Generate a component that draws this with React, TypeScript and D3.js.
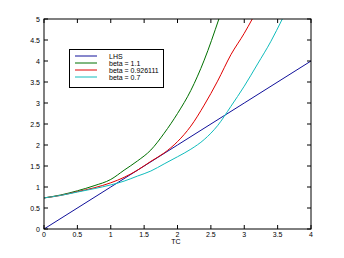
import React from "react";
import * as d3 from "d3";

const xTicks = [0, 0.5, 1, 1.5, 2, 2.5, 3, 3.5, 4];
const yTicks = [0, 0.5, 1, 1.5, 2, 2.5, 3, 3.5, 4, 4.5, 5];
const xTickLabels = ["0", "0.5", "1", "1.5", "2", "2.5", "3", "3.5", "4"];
const yTickLabels = ["0", "0.5", "1", "1.5", "2", "2.5", "3", "3.5", "4", "4.5", "5"];

const lhsX = [0, 1, 2, 3, 4];
const lhsY = [0, 1, 2, 3, 4];

const beta11X = [0, 0.25, 0.5, 0.75, 1.0, 1.2, 1.4, 1.6, 1.8, 2.0, 2.2, 2.4, 2.62];
const beta11Y = [0.74, 0.81, 0.91, 1.03, 1.18, 1.4, 1.62, 1.88, 2.28, 2.75, 3.3, 4.02, 5.0];

const beta0926X = [0, 0.25, 0.5, 0.75, 1.0, 1.2, 1.4, 1.6, 1.8, 2.0, 2.2, 2.4, 2.6, 2.8, 3.0, 3.12];
const beta0926Y = [0.74, 0.8, 0.89, 0.98, 1.1, 1.23, 1.4, 1.61, 1.81, 2.08, 2.45, 2.95, 3.52, 4.15, 4.66, 5.0];

const beta07X = [0, 0.25, 0.5, 0.75, 1.0, 1.2, 1.4, 1.6, 1.8, 2.0, 2.2, 2.4, 2.6, 2.8, 3.0, 3.2, 3.4, 3.57];
const beta07Y = [0.74, 0.8, 0.88, 0.96, 1.05, 1.14, 1.26, 1.38, 1.55, 1.72, 1.9, 2.13, 2.46, 2.92, 3.4, 3.93, 4.47, 5.0];

const seriesNames = ["LHS", "beta = 1.1", "beta = 0.926111", "beta = 0.7"];
const seriesColors = ["#10109a", "#007000", "#e00000", "#10bcbc"];

export default function App() {
  const W = 344, H = 258;
  const left = 44, right = 311, top = 19, bottom = 229;
  const x = d3.scaleLinear().domain([0, 4]).range([left, right]);
  const y = d3.scaleLinear().domain([0, 5]).range([bottom, top]);
  const line = d3.line<[number, number]>().x(d => x(d[0])).y(d => y(d[1])).curve(d3.curveMonotoneX);

  const series = [
    [lhsX, lhsY],
    [beta11X, beta11Y],
    [beta0926X, beta0926Y],
    [beta07X, beta07Y],
  ].map(([xs, ys]) => xs.map((v, i) => [v, ys[i]] as [number, number]));

  const font = "'Liberation Sans', Arial, sans-serif";
  const tl = 4;

  return (
    <svg width={W} height={H} style={{ position: "absolute", left: 0, top: 0, background: "#fff" }}>
      <rect x={0} y={0} width={W} height={H} fill="#fff" />
      <defs>
        <clipPath id="plot">
          <rect x={left} y={top} width={right - left} height={bottom - top} />
        </clipPath>
      </defs>
      <g clipPath="url(#plot)">
        {series.map((pts, i) => (
          <path key={i} d={line(pts) || ""} fill="none" stroke={seriesColors[i]} strokeWidth={1} />
        ))}
      </g>
      <rect x={left} y={top} width={right - left} height={bottom - top} fill="none" stroke="#000" strokeWidth={1} />
      {xTicks.map((t, i) => (
        <g key={"x" + i}>
          <line x1={x(t)} x2={x(t)} y1={bottom} y2={bottom - tl} stroke="#000" />
          <line x1={x(t)} x2={x(t)} y1={top} y2={top + tl} stroke="#000" />
          <text x={x(t)} y={237} fontSize={7} fontFamily={font} textAnchor="middle">{xTickLabels[i]}</text>
        </g>
      ))}
      {yTicks.map((t, i) => (
        <g key={"y" + i}>
          <line x1={left} x2={left + tl} y1={y(t)} y2={y(t)} stroke="#000" />
          <line x1={right} x2={right - tl} y1={y(t)} y2={y(t)} stroke="#000" />
          <text x={40} y={y(t) + 2.5} fontSize={7} fontFamily={font} textAnchor="end">{yTickLabels[i]}</text>
        </g>
      ))}
      <text x={176} y={244} fontSize={7} fontFamily={font} textAnchor="middle">TC</text>
      <g>
        <rect x={69.5} y={49.5} width={94} height={38} fill="#fff" stroke="#000" strokeWidth={1} />
        {seriesNames.map((n, i) => {
          const yy = 56 + i * 7;
          return (
            <g key={n}>
              <line x1={75} x2={97} y1={yy} y2={yy} stroke={seriesColors[i]} strokeWidth={1} />
              <text x={109} y={yy + 2.5} fontSize={7} fontFamily={font}>{n}</text>
            </g>
          );
        })}
      </g>
    </svg>
  );
}
